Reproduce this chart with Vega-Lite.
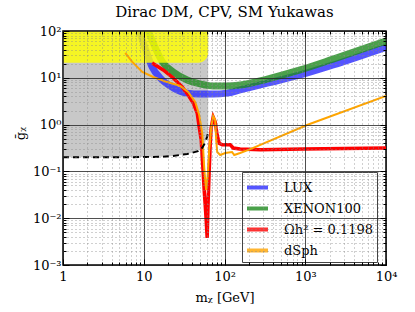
{
  "$schema": "https://vega.github.io/schema/vega-lite/v6.json",
  "width": 323,
  "height": 234,
  "autosize": {"type": "none"},
  "padding": {"left": 63, "top": 31, "right": 29, "bottom": 47},
  "title": {"text": "Dirac DM, CPV, SM Yukawas", "font": "DejaVu Serif", "fontSize": 15, "fontWeight": "normal", "color": "#000", "offset": 5},
  "config": {
    "view": {"stroke": "#000", "strokeWidth": 1.5},
    "axis": {"labelFont": "DejaVu Serif", "labelFontSize": 13, "labelColor": "#000", "titleFont": "DejaVu Serif", "titleFontSize": 13, "titleFontWeight": "normal", "titleColor": "#000", "labelOverlap": false, "labelFlush": false, "labelBound": false, "domain": false, "tickColor": "#000"}
  },
  "datasets": {
    "lux": [
      {"series": "LUX", "x": 8.8, "y": 100}, {"series": "LUX", "x": 10.4, "y": 43}, {"series": "LUX", "x": 12.7, "y": 17}, {"series": "LUX", "x": 16, "y": 9.9}, {"series": "LUX", "x": 23.2, "y": 6.1}, {"series": "LUX", "x": 34.5, "y": 4.7}, {"series": "LUX", "x": 50, "y": 4.5}, {"series": "LUX", "x": 72, "y": 4.5}, {"series": "LUX", "x": 108, "y": 4.7}, {"series": "LUX", "x": 156, "y": 5.5}, {"series": "LUX", "x": 338, "y": 7.7}, {"series": "LUX", "x": 865, "y": 11.5}, {"series": "LUX", "x": 2213, "y": 18.8}, {"series": "LUX", "x": 10000, "y": 45}
    ],
    "xenon": [
      {"series": "XENON100", "x": 11.4, "y": 100}, {"series": "XENON100", "x": 17.4, "y": 20.7}, {"series": "XENON100", "x": 23.2, "y": 13.3}, {"series": "XENON100", "x": 34.5, "y": 9.0}, {"series": "XENON100", "x": 50, "y": 7.4}, {"series": "XENON100", "x": 72, "y": 6.7}, {"series": "XENON100", "x": 108, "y": 6.7}, {"series": "XENON100", "x": 156, "y": 7.0}, {"series": "XENON100", "x": 338, "y": 9.4}, {"series": "XENON100", "x": 865, "y": 14.7}, {"series": "XENON100", "x": 2213, "y": 25}, {"series": "XENON100", "x": 10000, "y": 61}
    ],
    "relic": [
      {"series": "Ωh² = 0.1198", "x": 12.7, "y": 20.7}, {"series": "Ωh² = 0.1198", "x": 17.4, "y": 14.7}, {"series": "Ωh² = 0.1198", "x": 23.2, "y": 9.9}, {"series": "Ωh² = 0.1198", "x": 29.9, "y": 6.4}, {"series": "Ωh² = 0.1198", "x": 35.5, "y": 4.3}, {"series": "Ωh² = 0.1198", "x": 41, "y": 2.9}, {"series": "Ωh² = 0.1198", "x": 45.9, "y": 1.77}, {"series": "Ωh² = 0.1198", "x": 48.6, "y": 0.89}, {"series": "Ωh² = 0.1198", "x": 51.5, "y": 0.47}, {"series": "Ωh² = 0.1198", "x": 53, "y": 0.2}, {"series": "Ωh² = 0.1198", "x": 54.5, "y": 0.092}, {"series": "Ωh² = 0.1198", "x": 56, "y": 0.04}, {"series": "Ωh² = 0.1198", "x": 57.7, "y": 0.019}, {"series": "Ωh² = 0.1198", "x": 59.3, "y": 0.0092}, {"series": "Ωh² = 0.1198", "x": 61, "y": 0.0038}, {"series": "Ωh² = 0.1198", "x": 62.8, "y": 0.0245}, {"series": "Ωh² = 0.1198", "x": 64.7, "y": 0.107}, {"series": "Ωh² = 0.1198", "x": 66.5, "y": 0.37}, {"series": "Ωh² = 0.1198", "x": 68.4, "y": 0.85}, {"series": "Ωh² = 0.1198", "x": 72.4, "y": 1.45}, {"series": "Ωh² = 0.1198", "x": 76.7, "y": 1.14}, {"series": "Ωh² = 0.1198", "x": 81, "y": 0.6}, {"series": "Ωh² = 0.1198", "x": 86, "y": 0.4}, {"series": "Ωh² = 0.1198", "x": 93.6, "y": 0.37}, {"series": "Ωh² = 0.1198", "x": 118, "y": 0.37}, {"series": "Ωh² = 0.1198", "x": 128, "y": 0.316}, {"series": "Ωh² = 0.1198", "x": 156, "y": 0.3}, {"series": "Ωh² = 0.1198", "x": 277, "y": 0.29}, {"series": "Ωh² = 0.1198", "x": 942, "y": 0.3}, {"series": "Ωh² = 0.1198", "x": 10000, "y": 0.316}
    ],
    "dsph": [
      {"series": "dSph", "x": 5.9, "y": 33.9}, {"series": "dSph", "x": 7.2, "y": 21.8}, {"series": "dSph", "x": 9.6, "y": 13.3}, {"series": "dSph", "x": 13.1, "y": 10.4}, {"series": "dSph", "x": 19.5, "y": 8.1}, {"series": "dSph", "x": 28.3, "y": 6.7}, {"series": "dSph", "x": 35.5, "y": 5.0}, {"series": "dSph", "x": 43.5, "y": 3.0}, {"series": "dSph", "x": 48.6, "y": 1.6}, {"series": "dSph", "x": 53, "y": 0.66}, {"series": "dSph", "x": 54.5, "y": 0.29}, {"series": "dSph", "x": 56, "y": 0.124}, {"series": "dSph", "x": 57.7, "y": 0.065}, {"series": "dSph", "x": 59.3, "y": 0.04}, {"series": "dSph", "x": 62, "y": 0.084}, {"series": "dSph", "x": 64.7, "y": 0.29}, {"series": "dSph", "x": 68.4, "y": 0.85}, {"series": "dSph", "x": 72.4, "y": 1.53}, {"series": "dSph", "x": 76.7, "y": 1.25}, {"series": "dSph", "x": 78.9, "y": 0.47}, {"series": "dSph", "x": 81.2, "y": 0.26}, {"series": "dSph", "x": 88.5, "y": 0.224}, {"series": "dSph", "x": 102, "y": 0.247}, {"series": "dSph", "x": 124, "y": 0.26}, {"series": "dSph", "x": 132, "y": 0.224}, {"series": "dSph", "x": 156, "y": 0.247}, {"series": "dSph", "x": 209, "y": 0.3}, {"series": "dSph", "x": 1050, "y": 0.98}, {"series": "dSph", "x": 10000, "y": 4.1}
    ],
    "bound": [
      {"x": 1, "y": 0.2}, {"x": 5, "y": 0.2}, {"x": 16, "y": 0.205}, {"x": 21, "y": 0.21}, {"x": 34.5, "y": 0.235}, {"x": 47, "y": 0.27}, {"x": 53, "y": 0.32}, {"x": 57, "y": 0.4}, {"x": 61, "y": 0.55}, {"x": 62, "y": 0.62}
    ],
    "grayregion": [
      {"x": 1, "y": 0.2}, {"x": 5, "y": 0.2}, {"x": 16, "y": 0.205}, {"x": 21, "y": 0.21}, {"x": 34.5, "y": 0.235}, {"x": 47, "y": 0.27}, {"x": 53, "y": 0.32}, {"x": 57, "y": 0.4}, {"x": 61, "y": 0.55}, {"x": 62.8, "y": 0.62}
    ],
    "yellowregion": [
      {"x": 1, "x2": 62.8, "y": 21, "y2": 100}
    ]
  },
  "layer": [
    {
      "data": {"name": "grayregion"},
      "mark": {"type": "area", "color": "#c8c8c8", "clip": true},
      "encoding": {
        "x": {"field": "x", "type": "quantitative", "scale": {"type": "log", "domain": [1, 10000]},
          "axis": {"orient": "bottom", "title": "mᵪ [GeV]", "zindex": 1,
            "values": [1,2,3,4,5,6,7,8,9,10,20,30,40,50,60,70,80,90,100,200,300,400,500,600,700,800,900,1000,2000,3000,4000,5000,6000,7000,8000,9000,10000],
            "labelExpr": "datum.value==1?'1':datum.value==10?'10':datum.value==100?'10²':datum.value==1000?'10³':datum.value==10000?'10⁴':''",
            "grid": true,
            "gridColor": {"condition": {"test": "abs(log(datum.value)/LN10-round(log(datum.value)/LN10))<0.001", "value": "#222"}, "value": "#888"},
            "gridDash": {"condition": {"test": "abs(log(datum.value)/LN10-round(log(datum.value)/LN10))<0.001", "value": []}, "value": [1, 3]},
            "gridWidth": 0.8,
            "tickSize": {"condition": {"test": "abs(log(datum.value)/LN10-round(log(datum.value)/LN10))<0.001", "value": -6}, "value": -3},
            "labelPadding": 11, "titlePadding": 5}},
        "y": {"field": "y", "type": "quantitative", "scale": {"type": "log", "domain": [0.001, 100]},
          "axis": {"orient": "left", "title": "ḡᵪ", "zindex": 1, "titleX": -43, "titleY": 102, "titleAngle": -90, "titleBaseline": "middle", "titleAlign": "center",
            "values": [0.001,0.002,0.003,0.004,0.005,0.006,0.007,0.008,0.009,0.01,0.02,0.03,0.04,0.05,0.06,0.07,0.08,0.09,0.1,0.2,0.3,0.4,0.5,0.6,0.7,0.8,0.9,1,2,3,4,5,6,7,8,9,10,20,30,40,50,60,70,80,90,100],
            "labelExpr": "abs(log(datum.value)/LN10-round(log(datum.value)/LN10))>0.001 ? '' : ['10⁻³','10⁻²','10⁻¹','10⁰','10¹','10²'][round(log(datum.value)/LN10)+3]",
            "grid": true,
            "gridColor": {"condition": {"test": "abs(log(datum.value)/LN10-round(log(datum.value)/LN10))<0.001", "value": "#222"}, "value": "#888"},
            "gridDash": {"condition": {"test": "abs(log(datum.value)/LN10-round(log(datum.value)/LN10))<0.001", "value": []}, "value": [1, 3]},
            "gridWidth": 0.8,
            "tickSize": {"condition": {"test": "abs(log(datum.value)/LN10-round(log(datum.value)/LN10))<0.001", "value": -6}, "value": -3},
            "labelPadding": 8}},
        "y2": {"datum": 100}
      }
    },
    {
      "data": {"name": "lux"},
      "mark": {"type": "line", "strokeWidth": 7, "opacity": 0.8, "interpolate": "monotone", "clip": true},
      "encoding": {
        "x": {"field": "x", "type": "quantitative", "scale": {"type": "log", "domain": [1, 10000]}, "axis": null},
        "y": {"field": "y", "type": "quantitative", "scale": {"type": "log", "domain": [0.001, 100]}, "axis": null},
        "color": {"field": "series", "type": "nominal",
          "scale": {"domain": ["LUX", "XENON100", "Ωh² = 0.1198", "dSph"], "range": ["#2b2bff", "#1e8a1e", "#ff0000", "#ffa500"]},
          "legend": {"title": null, "orient": "none", "legendX": 179, "legendY": 141, "symbolType": "stroke", "symbolStrokeWidth": 4, "symbolSize": 440, "symbolOpacity": 0.8,
            "labelFont": "DejaVu Serif", "labelFontSize": 13, "labelColor": "#000", "labelOffset": 14,
            "padding": 3, "rowPadding": -5, "strokeColor": "#444", "fillColor": "rgba(255,255,255,0.85)", "labelLimit": 200}}
      }
    },
    {
      "data": {"name": "xenon"},
      "mark": {"type": "line", "strokeWidth": 7, "opacity": 0.8, "interpolate": "monotone", "clip": true},
      "encoding": {
        "x": {"field": "x", "type": "quantitative", "scale": {"type": "log", "domain": [1, 10000]}, "axis": null},
        "y": {"field": "y", "type": "quantitative", "scale": {"type": "log", "domain": [0.001, 100]}, "axis": null},
        "color": {"field": "series", "type": "nominal", "scale": {"domain": ["LUX", "XENON100", "Ωh² = 0.1198", "dSph"], "range": ["#2b2bff", "#1e8a1e", "#ff0000", "#ffa500"]}}
      }
    },
    {
      "data": {"name": "yellowregion"},
      "mark": {"type": "rect", "color": "#ffff00", "opacity": 0.82, "cornerRadiusBottomRight": 10, "clip": true},
      "encoding": {
        "x": {"field": "x", "type": "quantitative", "scale": {"type": "log", "domain": [1, 10000]}, "axis": null},
        "x2": {"field": "x2"},
        "y": {"field": "y", "type": "quantitative", "scale": {"type": "log", "domain": [0.001, 100]}, "axis": null},
        "y2": {"field": "y2"}
      }
    },
    {
      "data": {"name": "relic"},
      "mark": {"type": "line", "strokeWidth": 3.5, "clip": true},
      "encoding": {
        "x": {"field": "x", "type": "quantitative", "scale": {"type": "log", "domain": [1, 10000]}, "axis": null},
        "y": {"field": "y", "type": "quantitative", "scale": {"type": "log", "domain": [0.001, 100]}, "axis": null},
        "color": {"field": "series", "type": "nominal", "scale": {"domain": ["LUX", "XENON100", "Ωh² = 0.1198", "dSph"], "range": ["#2b2bff", "#1e8a1e", "#ff0000", "#ffa500"]}}
      }
    },
    {
      "data": {"name": "dsph"},
      "mark": {"type": "line", "strokeWidth": 2, "clip": true},
      "encoding": {
        "x": {"field": "x", "type": "quantitative", "scale": {"type": "log", "domain": [1, 10000]}, "axis": null},
        "y": {"field": "y", "type": "quantitative", "scale": {"type": "log", "domain": [0.001, 100]}, "axis": null},
        "color": {"field": "series", "type": "nominal", "scale": {"domain": ["LUX", "XENON100", "Ωh² = 0.1198", "dSph"], "range": ["#2b2bff", "#1e8a1e", "#ff0000", "#ffa500"]}}
      }
    },
    {
      "data": {"name": "bound"},
      "mark": {"type": "line", "strokeWidth": 2, "color": "#000", "strokeDash": [6, 4], "clip": true},
      "encoding": {
        "x": {"field": "x", "type": "quantitative", "scale": {"type": "log", "domain": [1, 10000]},
          "axis": {"orient": "top", "title": null, "labels": false, "grid": false, "zindex": 1,
            "values": [1,2,3,4,5,6,7,8,9,10,20,30,40,50,60,70,80,90,100,200,300,400,500,600,700,800,900,1000,2000,3000,4000,5000,6000,7000,8000,9000,10000],
            "tickSize": {"condition": {"test": "abs(log(datum.value)/LN10-round(log(datum.value)/LN10))<0.001", "value": -6}, "value": -3}}},
        "y": {"field": "y", "type": "quantitative", "scale": {"type": "log", "domain": [0.001, 100]},
          "axis": {"orient": "right", "title": null, "labels": false, "grid": false, "zindex": 1,
            "values": [0.001,0.002,0.003,0.004,0.005,0.006,0.007,0.008,0.009,0.01,0.02,0.03,0.04,0.05,0.06,0.07,0.08,0.09,0.1,0.2,0.3,0.4,0.5,0.6,0.7,0.8,0.9,1,2,3,4,5,6,7,8,9,10,20,30,40,50,60,70,80,90,100],
            "tickSize": {"condition": {"test": "abs(log(datum.value)/LN10-round(log(datum.value)/LN10))<0.001", "value": -6}, "value": -3}}}
      }
    }
  ],
  "resolve": {"axis": {"x": "independent", "y": "independent"}}
}
